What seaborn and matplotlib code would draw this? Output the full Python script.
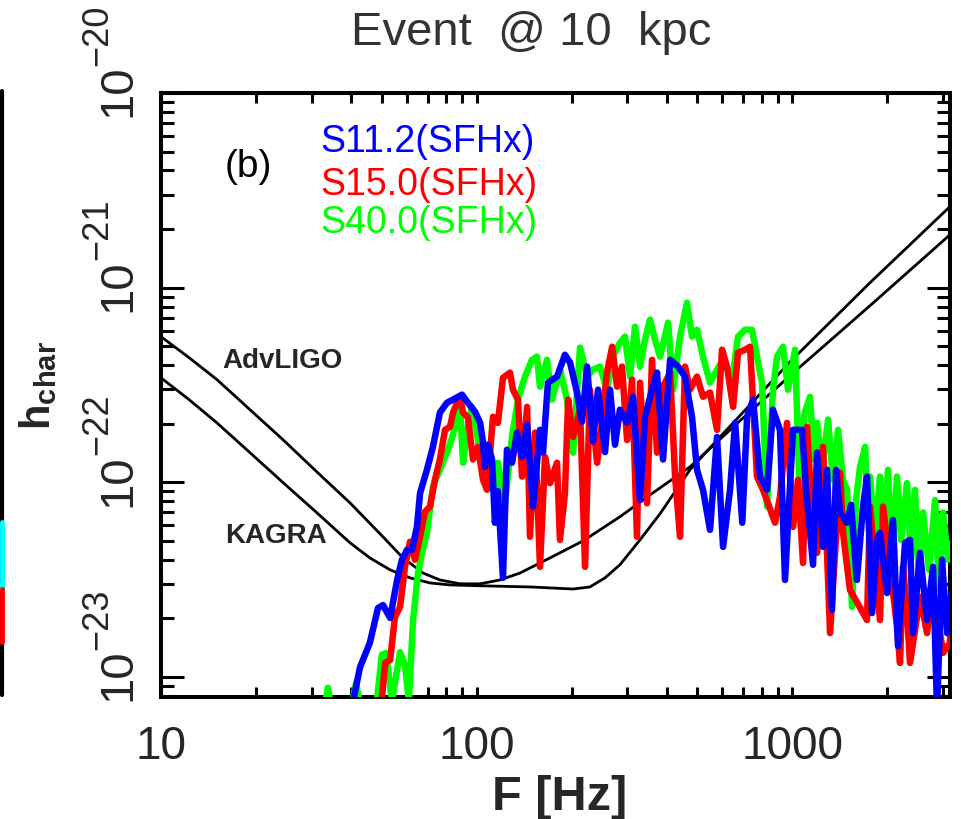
import numpy as np
import pandas as pd
import matplotlib
matplotlib.use("Agg")
import matplotlib.pyplot as plt
import seaborn as sns
from matplotlib.lines import Line2D
from matplotlib.ticker import LogLocator, FixedLocator, FuncFormatter, NullFormatter
import matplotlib.transforms as mtransforms

# ---------------- data ----------------
# frequencies in Hz, strain in units of 1e-22
s112_f = [39.5, 42.7, 45.9, 48.7, 50.5, 53.2, 56.0, 58.0, 60.2, 62.4, 64.7, 66.2, 69.6, 72.7, 76.5,
          80.5, 84.2, 89.9, 93.9, 98.9, 102.6, 104.8, 106.3, 108.6, 111.9, 114.3, 116.8, 121.2, 124.8,
          129.5, 134.3, 139.3, 144.5, 150.9, 158.8, 162.3, 168.3, 179.8, 190.5, 197.8, 208.0, 215.8,
          223.9, 233.8, 242.6, 255.2, 264.7, 274.5, 284.5, 299.7, 313.1, 329.4, 341.7, 359.6, 373.0,
          389.7, 410.3, 434.8, 457.3, 481.4, 499.3, 521.6, 549.0, 577.8, 603.8, 635.3, 659.3, 694.6,
          719.6, 751.6, 790.6, 832.0, 869.1, 914.5, 948.8, 1006, 1074, 1106, 1164, 1199, 1252, 1289,
          1337, 1377, 1418, 1492, 1536, 1603, 1676, 1726, 1791, 1857, 1897, 1997, 2086, 2164, 2278,
          2362, 2415, 2541, 2674, 2793, 2877, 2984, 3094, 3200]
s112_h = [0.06, 0.112, 0.15, 0.226, 0.234, 0.201, 0.315, 0.40, 0.45, 0.45, 0.59, 0.88, 1.16, 1.52, 2.28,
          2.56, 2.66, 2.82, 2.56, 2.30, 2.02, 1.60, 1.20, 1.56, 1.31, 0.62, 0.90, 0.323, 1.47,
          1.26, 1.80, 1.35, 1.98, 0.75, 1.86, 1.42, 3.25, 3.49, 4.52, 4.12, 2.89, 2.05,
          3.93, 1.62, 2.99, 1.43, 2.99, 1.56, 2.36, 2.02, 2.75, 0.81, 2.17, 2.99, 3.66,
          1.31, 4.26, 3.93, 3.49, 2.17, 1.16, 0.915, 0.57, 1.71, 0.466, 0.915, 2.02, 0.62,
          2.17, 2.66, 1.07, 0.915, 2.36, 1.86, 0.315, 1.86, 1.86, 0.915, 0.377, 1.42, 0.466, 1.16,
          0.221, 1.16, 0.70, 0.62, 0.766, 0.315, 0.75, 1.07, 0.213, 0.506, 0.55, 0.27, 0.64, 0.144, 0.489,
          0.506, 0.168, 0.434, 0.196, 0.368, 0.068, 0.40, 0.168, 0.27]

s150_f = [49.4, 51.3, 53.2, 55.1, 57.2, 59.3, 61.5, 63.8, 66.2, 68.6, 71.2, 73.8, 76.5, 79.4, 82.4,
          84.2, 86.7, 88.6, 90.6, 93.9, 97.4, 101.0, 104.8, 107.9, 112.7, 116.8, 121.2, 127.6, 130.4,
          135.2, 139.3, 144.5, 147.6, 153.1, 158.8, 164.7, 170.9, 179.8, 183.7, 190.5, 195.0, 202.2,
          212.7, 220.6, 228.6, 240.8, 249.5, 258.8, 268.9, 278.6, 288.9, 299.7, 310.8, 322.2, 329.4,
          346.7, 359.6, 373.0, 389.7, 410.3, 425.5, 441.1, 457.3, 474.3, 499.3, 521.6, 549.0, 577.8,
          599.3, 621.4, 649.7, 673.5, 708.9, 735.2, 773.5, 808.2, 838.0, 882.2, 914.5, 962.7, 1006,
          1043, 1082, 1114, 1164, 1199, 1252, 1318, 1418, 1449, 1524, 1726, 1764, 1897, 1940, 2148,
          2196, 2244, 2311, 2362, 2541, 2674, 2793, 3006, 3162, 3200]
s150_h = [0.06, 0.118, 0.122, 0.203, 0.229, 0.368, 0.495, 0.40, 0.525, 0.705, 0.75, 1.03, 1.31, 1.86, 1.93,
          2.28, 2.56, 2.75, 2.28, 2.15, 1.31, 1.52, 1.03, 0.915, 2.17, 2.02, 3.44, 3.66, 2.99,
          2.66, 1.07, 2.44, 0.525, 1.80, 0.368, 1.35, 0.99, 1.26, 0.506, 0.88, 2.66, 1.71,
          2.36, 0.368, 2.99, 1.26, 2.02, 3.66, 4.97, 3.10, 3.93, 1.65, 3.37, 0.525, 3.25,
          0.78, 4.26, 1.42, 3.10, 3.66, 1.07, 0.525, 3.93, 2.99, 3.49, 2.75, 2.89, 1.86,
          4.80, 3.93, 2.44, 4.63, 4.80, 4.97, 1.07, 0.915, 0.78, 0.62, 0.84, 2.02, 0.59,
          1.03, 0.385, 1.93, 0.57, 0.434, 1.52, 0.168, 1.12, 0.55, 0.28, 0.196, 0.75, 0.196, 0.75, 0.181,
          0.118, 0.368, 0.213, 0.118, 0.258, 0.168, 0.29, 0.133, 0.15, 0.249]

s400_f = [32.4, 33.8, 35.3, 38.5, 41.5, 44.5, 46.6, 48.3, 50.1, 51.7, 53.9, 57.2, 59.3, 61.0, 62.9,
          65.2, 67.5, 69.6, 72.7, 76.5, 80.5, 83.6, 86.7, 88.6, 90.6, 93.3, 96.7, 101.0, 104.0,
          107.9, 110.2, 114.3, 116.8, 123.0, 129.5, 135.2, 142.3, 149.8, 155.3, 158.8, 167.1, 173.4,
          183.7, 193.4, 202.2, 212.7, 223.9, 233.8, 246.0, 258.8, 270.4, 284.5, 295.2, 306.3, 317.7,
          329.4, 341.7, 354.3, 367.5, 381.2, 404.4, 419.2, 441.1, 464.1, 481.4, 499.3, 521.6, 549.0,
          577.8, 603.8, 644.9, 673.5, 708.9, 746.0, 773.5, 802.4, 832.0, 869.1, 895.0, 935.4, 969.8,
          1021, 1058, 1090, 1139, 1172, 1199, 1243, 1299, 1347, 1397, 1449, 1492, 1547, 1593, 1640,
          1702, 1738, 1764, 1829, 1897, 1954, 2012, 2072, 2148, 2213, 2311, 2379, 2449, 2522, 2597,
          2713, 2835, 2919, 3006, 3116, 3200]
s400_h = [0.06, 0.088, 0.06, 0.05, 0.093, 0.05, 0.05, 0.075, 0.13, 0.133, 0.075, 0.134, 0.115, 0.075, 0.196,
          0.342, 0.45, 0.55, 0.95, 1.16, 1.42, 1.69, 2.10, 2.44, 1.26, 1.86, 2.44, 1.65, 1.16,
          1.20, 1.35, 0.81, 1.26, 0.78, 1.71, 2.66, 3.49, 4.26, 4.42, 3.10, 4.26, 2.66,
          3.79, 2.66, 1.42, 4.92, 3.49, 3.79, 3.93, 2.99, 4.42, 5.21, 5.60, 3.49, 6.30,
          3.93, 5.41, 6.85, 5.41, 4.42, 6.61, 2.99, 5.60, 8.37, 5.60, 6.08, 4.42, 3.25,
          3.79, 4.26, 3.37, 5.60, 6.08, 6.08, 4.42, 3.25, 0.75, 2.99, 4.42, 4.97, 2.99,
          4.80, 0.78, 2.22, 2.75, 1.31, 2.02, 1.16, 2.10, 1.03, 1.86, 1.03, 0.915, 0.229, 0.81, 1.20,
          1.52, 0.64, 1.07, 0.506, 1.07, 0.57, 1.16, 0.40, 1.07, 0.506, 0.99, 0.40, 0.915, 0.315, 0.70,
          0.355, 0.81, 0.28, 0.70, 0.40, 0.489]

# detector sensitivity curves
advligo_f = [10, 12.27, 15.04, 19.14, 24.4, 31.2, 39.7, 50.5, 58.0, 67.6, 76.5, 88.6, 102.6, 118.6,
             137.3, 170.9, 217.4, 284.5, 362.2, 474.3, 683.2, 984.2, 1764, 3162]
advligo_h = [5.60, 4.37, 3.37, 2.36, 1.65, 1.13, 0.784, 0.525, 0.414, 0.342, 0.315, 0.301, 0.301, 0.315,
             0.342, 0.409, 0.50, 0.665, 0.883, 1.20, 2.07, 3.53, 8.08, 18.7]
kagra_f = [10, 12.27, 15.04, 19.14, 24.4, 31.2, 39.7, 45.9, 53.2, 61.5, 71.2, 82.4, 102.6, 147.6,
           202.2, 228.6, 255.2, 284.5, 329.4, 381.2, 474.3, 590.4, 735.2, 984.2, 1764, 3162]
kagra_h = [3.44, 2.66, 2.02, 1.42, 0.994, 0.697, 0.489, 0.409, 0.355, 0.323, 0.304, 0.297, 0.294, 0.29,
           0.283, 0.29, 0.323, 0.377, 0.506, 0.689, 1.16, 1.71, 2.50, 4.16, 10.6, 26.1]

models = ["S40.0(SFHx)", "S15.0(SFHx)", "S11.2(SFHx)"]
model_colors = ["#00FF00", "#FF0000", "#0000FF"]
x_ticks = [10, 100, 1000]
x_ticklabels = ["10", "100", "1000"]
y_ticks = [1e-23, 1e-22, 1e-21, 1e-20]
y_exponents = ["\u221223", "\u221222", "\u221221", "\u221220"]

# ---------------- style ----------------
sns.set_style("ticks")
plt.rcParams["font.family"] = ["Liberation Sans", "DejaVu Sans"]
plt.rcParams["mathtext.fontset"] = "custom"
plt.rcParams["mathtext.rm"] = "Liberation Sans"
plt.rcParams["mathtext.it"] = "Liberation Sans"
plt.rcParams["mathtext.bf"] = "Liberation Sans:bold"

W, H = 961, 819
fig = plt.figure(figsize=(W / 100, H / 100), dpi=100)
ax = fig.add_axes([161 / W, 1 - 697 / H, 789 / W, 604 / H])

det = pd.DataFrame({
    "f": advligo_f + kagra_f,
    "h": [v * 1e-22 for v in advligo_h + kagra_h],
    "det": ["AdvLIGO"] * len(advligo_f) + ["KAGRA"] * len(kagra_f),
})
sig = pd.DataFrame({
    "f": s400_f + s150_f + s112_f,
    "h": [v * 1e-22 for v in s400_h + s150_h + s112_h],
    "model": [models[0]] * len(s400_f) + [models[1]] * len(s150_f) + [models[2]] * len(s112_f),
})

sns.lineplot(data=det, x="f", y="h", hue="det", palette=["black", "black"], estimator=None,
             sort=False, lw=2.0, legend=False, ax=ax, zorder=2)
sns.lineplot(data=sig, x="f", y="h", hue="model", hue_order=models, palette=model_colors,
             estimator=None, sort=False, lw=4.7, legend=False, ax=ax, zorder=3)

ax.set_xscale("log")
ax.set_yscale("log")
ax.set_xlim(10, 3162)
ax.set_ylim(10 ** -23.103, 1e-20)

ax.xaxis.set_major_locator(FixedLocator(x_ticks))
ax.xaxis.set_minor_locator(LogLocator(base=10, subs=np.arange(2, 10), numticks=10))
ax.xaxis.set_major_formatter(FuncFormatter(lambda v, p: x_ticklabels[x_ticks.index(int(round(v)))] if int(round(v)) in x_ticks else ""))
ax.xaxis.set_minor_formatter(NullFormatter())
ax.yaxis.set_major_locator(FixedLocator(y_ticks))
ax.yaxis.set_minor_locator(LogLocator(base=10, subs=np.arange(2, 10), numticks=10))
ax.yaxis.set_major_formatter(NullFormatter())
ax.yaxis.set_minor_formatter(NullFormatter())

ax.set_xlabel("")
ax.set_ylabel("")
for s in ax.spines.values():
    s.set_linewidth(2.9)
    s.set_color("black")
    s.set_visible(True)

ax.tick_params(which="both", direction="in", top=True, right=True, width=2.2, color="black")
ax.tick_params(axis="x", which="both", length=7.5, labelsize=33, pad=20)
ax.tick_params(axis="y", which="major", length=16.5, labelleft=False)
ax.tick_params(axis="y", which="minor", length=9.5)

# rotated y tick labels (IDL style): "10" just below the tick, exponent above it
blend = mtransforms.blended_transform_factory(ax.transAxes, ax.transData)
base_tr = blend + mtransforms.ScaledTranslation(0, 2 / 100, fig.dpi_scale_trans)
exp_tr = blend + mtransforms.ScaledTranslation(0, 58 / 100, fig.dpi_scale_trans)
for v, e in zip(y_ticks, y_exponents):
    ax.text(-0.0393, v, "10", transform=base_tr, rotation=90, rotation_mode="anchor",
            ha="center", va="baseline", fontsize=34, clip_on=False)
    ax.text(-0.0684, v, e, transform=exp_tr, rotation=90, rotation_mode="anchor",
            ha="center", va="baseline", fontsize=26, clip_on=False)

# texts inside
ax.text(0.2015, 0.902, "S11.2(SFHx)", color="#0000FF", fontsize=27, transform=ax.transAxes, va="baseline")
ax.text(0.2015, 0.831, "S15.0(SFHx)", color="#FF0000", fontsize=27, transform=ax.transAxes, va="baseline")
ax.text(0.2015, 0.768, "S40.0(SFHx)", color="#00FF00", fontsize=27, transform=ax.transAxes, va="baseline")
ax.text(0.081, 0.861, "(b)", color="black", fontsize=28, transform=ax.transAxes, va="baseline")
ax.text(15.6, 3.88e-22, "AdvLIGO", fontsize=20, fontweight="bold", va="baseline")
ax.text(15.95, 0.489e-22, "KAGRA", fontsize=20, fontweight="bold", va="baseline")

# figure texts
fig.text(531 / W, 1 - 45 / H, "Event  @ 10  kpc", ha="center", va="baseline", fontsize=34, color="#333333")
fig.text(560 / W, 1 - 810 / H, "F [Hz]", ha="center", va="baseline", fontsize=35, fontweight="bold")
fig.text(38 / W, 1 - 386 / H, r"$\mathbf{h_{char}}$", ha="center", va="center", rotation=90, fontsize=30)

# remnants of the neighbouring panel at the left edge
fig.add_artist(Line2D([2 / W, 2 / W], [1 - 91 / H, 1 - 695 / H], color="black", lw=3, transform=fig.transFigure))
fig.add_artist(Line2D([1.5 / W, 1.5 / W], [1 - 522 / H, 1 - 589 / H], color="cyan", lw=3.5, transform=fig.transFigure))
fig.add_artist(Line2D([1.5 / W, 1.5 / W], [1 - 589 / H, 1 - 642 / H], color="red", lw=3.5, transform=fig.transFigure))

fig.savefig("out.png", dpi=100)
